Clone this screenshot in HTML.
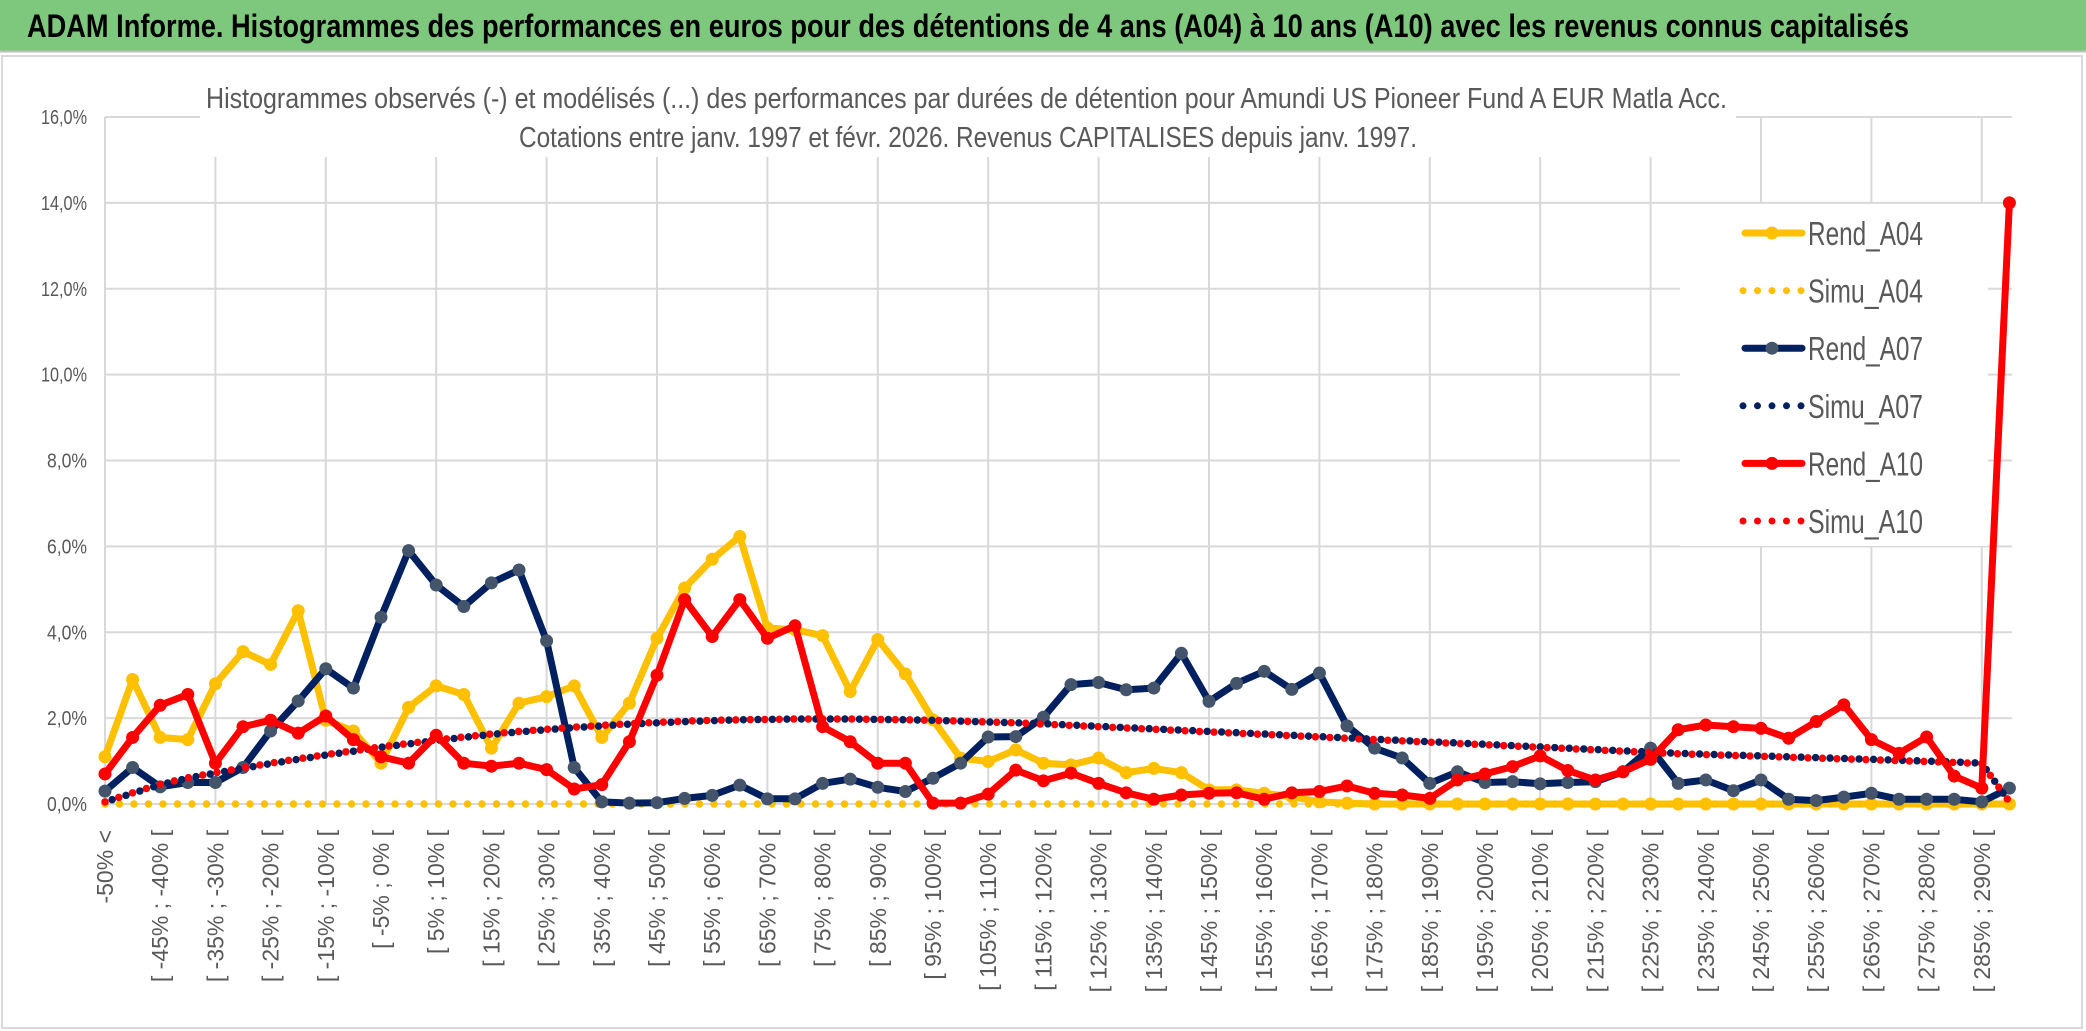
<!DOCTYPE html>
<html><head><meta charset="utf-8"><style>
html,body{margin:0;padding:0;background:#fff;}
svg{display:block;}
text{font-family:"Liberation Sans",sans-serif;}
</style></head><body>
<svg id="chart" width="2086" height="1031" viewBox="0 0 2086 1031" xmlns="http://www.w3.org/2000/svg">
<rect x="0" y="0" width="2086" height="51" fill="#7EC87E"/>
<line x1="0" y1="51.5" x2="2086" y2="51.5" stroke="#bfbfbf" stroke-width="2"/>
<text x="27" y="37" font-size="32" font-weight="bold" fill="#000" textLength="1882" lengthAdjust="spacingAndGlyphs">ADAM Informe. Histogrammes des performances en euros pour des détentions de 4 ans (A04) à 10 ans (A10) avec les revenus connus capitalisés</text>
<rect x="2" y="56" width="2080" height="972" fill="#fff" stroke="#d9d9d9" stroke-width="2"/>
<g id="grid"></g>
<rect x="200" y="60" width="1536" height="97" fill="#fff"/>
<text x="206" y="108" font-size="29" fill="#595959" textLength="1521" lengthAdjust="spacingAndGlyphs">Histogrammes observés (-) et modélisés (...) des performances par durées de détention pour Amundi US Pioneer Fund A EUR Matla Acc.</text>
<text x="519" y="147" font-size="29" fill="#595959" textLength="898" lengthAdjust="spacingAndGlyphs">Cotations entre janv. 1997 et févr. 2026. Revenus CAPITALISES depuis janv. 1997.</text>
<rect x="1680" y="204" width="308" height="342" fill="#fff"/>
<g id="series"></g>
<g id="legend"></g>
<g id="axes"></g>
</svg>
<script>
const categoriesCount = 70;
const yTicks = [0,2,4,6,8,10,12,14,16];
const rendA04 = [1.1,2.9,1.55,1.5,2.8,3.55,3.25,4.5,1.95,1.7,0.95,2.25,2.75,2.55,1.3,2.35,2.5,2.75,1.55,2.35,3.86,5.03,5.7,6.23,4.1,4.06,3.92,2.62,3.83,3.03,1.96,1.07,0.99,1.26,0.95,0.91,1.07,0.73,0.83,0.73,0.33,0.33,0.25,0.17,0.05,0.02,0,0,0,0,0,0,0,0,0,0,0,0,0,0,0,0,0,0,0,0,0,0,0,0];
const simuA04 = new Array(70).fill(0);
const rendA07 = [0.3,0.85,0.4,0.5,0.5,0.85,1.7,2.4,3.15,2.7,4.35,5.9,5.1,4.6,5.15,5.45,3.8,0.85,0.05,0.02,0.03,0.13,0.2,0.44,0.12,0.12,0.48,0.58,0.39,0.29,0.6,0.95,1.56,1.57,2.02,2.78,2.83,2.66,2.7,3.51,2.39,2.81,3.09,2.67,3.05,1.82,1.3,1.07,0.48,0.75,0.5,0.52,0.47,0.5,0.52,0.75,1.3,0.48,0.56,0.31,0.56,0.11,0.08,0.16,0.25,0.11,0.11,0.11,0.05,0.37];
const simuA07 = [0.05,0.25,0.45,0.6,0.72,0.83,0.94,1.04,1.14,1.23,1.32,1.4,1.48,1.55,1.62,1.68,1.73,1.78,1.82,1.86,1.89,1.92,1.94,1.96,1.97,1.98,1.98,1.98,1.97,1.96,1.95,1.93,1.91,1.89,1.87,1.84,1.81,1.78,1.75,1.72,1.69,1.66,1.63,1.6,1.57,1.54,1.51,1.48,1.45,1.42,1.39,1.36,1.33,1.3,1.27,1.24,1.21,1.18,1.16,1.14,1.12,1.1,1.08,1.06,1.04,1.02,1.0,0.98,0.95,0.05];
const rendA10 = [0.7,1.55,2.3,2.55,0.95,1.8,1.95,1.65,2.05,1.5,1.1,0.95,1.6,0.95,0.88,0.95,0.8,0.35,0.45,1.45,3.0,4.76,3.9,4.76,3.86,4.15,1.8,1.45,0.95,0.95,0.02,0.02,0.23,0.79,0.54,0.72,0.48,0.26,0.11,0.21,0.25,0.26,0.11,0.26,0.29,0.42,0.25,0.21,0.13,0.56,0.7,0.87,1.12,0.78,0.56,0.75,1.04,1.73,1.84,1.8,1.76,1.53,1.92,2.31,1.5,1.18,1.56,0.65,0.37,14.0];
const simuA10 = [0.05,0.26,0.46,0.61,0.73,0.84,0.95,1.05,1.15,1.24,1.33,1.41,1.49,1.56,1.63,1.69,1.74,1.79,1.83,1.87,1.9,1.93,1.95,1.96,1.97,1.98,1.98,1.98,1.97,1.96,1.95,1.93,1.91,1.89,1.86,1.83,1.8,1.77,1.74,1.71,1.68,1.65,1.62,1.59,1.56,1.53,1.5,1.47,1.44,1.41,1.38,1.35,1.32,1.29,1.26,1.23,1.2,1.17,1.15,1.13,1.11,1.09,1.07,1.05,1.03,1.01,0.99,0.97,0.94,0.05];

const NS = "http://www.w3.org/2000/svg";
const X0 = 105, DX = 27.6, Y0 = 804, YTOP = 117;
function xPos(i){ return X0 + i*DX; }
function yPos(v){ return Y0 - v*(Y0-YTOP)/16; }
function catLabel(i){ if(i===0) return "-50% <"; const a=-55+5*i; return "[ "+a+"% ; "+(a+5)+"% ["; }
function mk(tag, attrs, parent){ const e=document.createElementNS(NS,tag); for(const k in attrs) e.setAttribute(k,attrs[k]); parent.appendChild(e); return e; }

const grid=document.getElementById('grid');
yTicks.forEach(t=>{
  const l=mk('line',{x1:X0,x2:2012,y1:yPos(t),y2:yPos(t),stroke:'#d9d9d9','stroke-width':2},grid);
  
  
});
for(let i=0;i<categoriesCount;i+=4){
  const l=mk('line',{x1:xPos(i),x2:xPos(i),y1:YTOP,y2:Y0,stroke:'#d9d9d9','stroke-width':2},grid);
  
  
}
const axes=document.getElementById('axes');
yTicks.forEach(t=>{
  const s=t.toFixed(1).replace('.',',')+'%';
  const tx=mk('text',{x:87,y:yPos(t)+7,'font-size':20,fill:'#595959','text-anchor':'end',textLength:s.length>4?46:40,lengthAdjust:'spacingAndGlyphs'},axes);
  tx.textContent=s;
  
  
});
for(let i=0;i<=68;i+=2){
  const x=xPos(i)+8;
  const tx=mk('text',{x:0,y:0,'font-size':23,fill:'#595959','text-anchor':'end',transform:`translate(${x},830) rotate(-90)`},axes);
  tx.textContent=catLabel(i);
  
  
}

const series=document.getElementById('series');
function pts(arr){ return arr.map((v,i)=>xPos(i).toFixed(1)+','+yPos(v).toFixed(1)).join(' '); }
function drawRend(arr,color,marker,name){
  const g=mk('g',{},series);
  
  
  mk('polyline',{points:pts(arr),fill:'none',stroke:color,'stroke-width':7,'stroke-linejoin':'round'},g);
  arr.forEach((v,i)=>{
    const c=mk('circle',{cx:xPos(i),cy:yPos(v),r:6.5,fill:marker},g);
    
    
  });
}
function drawSimu(arr,color,offset,name){
  const p=mk('polyline',{points:pts(arr),fill:'none',stroke:color,'stroke-width':7.5,'stroke-linecap':'round','stroke-dasharray':'0 14.5','stroke-dashoffset':offset},series);
  
  
}
drawRend(rendA04,'#FFC000','#FFC000','rend-a04-line');
drawSimu(simuA04,'#FFC000',0,'simu-a04-line');
drawRend(rendA07,'#002060','#44546A','rend-a07-line');
drawSimu(simuA07,'#002060',7,'simu-a07-line');
drawRend(rendA10,'#FF0000','#FF0000','rend-a10-line');
drawSimu(simuA10,'#FF0000',0,'simu-a10-line');

const legendNames=['Rend_A04','Simu_A04','Rend_A07','Simu_A07','Rend_A10','Simu_A10'];
const legendColors=['#FFC000','#FFC000','#002060','#002060','#FF0000','#FF0000'];
const legend=document.getElementById('legend');
legendNames.forEach((n,k)=>{
  const cy=233+k*57.6;
  const g=mk('g',{},legend);
  
  
  if(n.startsWith('Rend')){
    mk('line',{x1:1745,x2:1802,y1:cy,y2:cy,stroke:legendColors[k],'stroke-width':7,'stroke-linecap':'round'},g);
    mk('circle',{cx:1772,cy:cy,r:6.5,fill:k===2?'#44546A':legendColors[k]},g);
  } else {
    mk('line',{x1:1743,x2:1803,y1:cy,y2:cy,stroke:legendColors[k],'stroke-width':7,'stroke-linecap':'round','stroke-dasharray':'0 14.5'},g);
  }
  const t=mk('text',{x:1808,y:cy+12,'font-size':33,fill:'#595959',textLength:115,lengthAdjust:'spacingAndGlyphs'},g);
  t.textContent=n;
});
</script>
</body></html>
